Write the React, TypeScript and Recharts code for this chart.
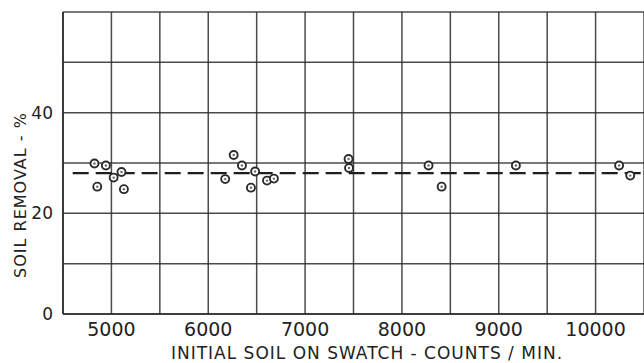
import React from "react";
import {
  ScatterChart,
  Scatter,
  XAxis,
  YAxis,
  CartesianGrid,
  ReferenceLine,
} from "recharts";

// readings taken off the plot
const soilCounts = [
  4825, 4854, 4943, 5023, 5104, 5129, 6175, 6263, 6348, 6441, 6484, 6607, 6678,
  7449, 7454, 8275, 8410, 9177, 10243, 10358,
];
const removalPct = [
  29.9, 25.3, 29.5, 27.1, 28.2, 24.8, 26.8, 31.6, 29.5, 25.1, 28.3, 26.5, 26.9,
  30.8, 29.0, 29.5, 25.3, 29.5, 29.5, 27.5,
];
const meanRemoval = 28;

const xTicks = [
  4500, 5000, 5500, 6000, 6500, 7000, 7500, 8000, 8500, 9000, 9500, 10000,
  10500,
];
const xLabelled = [5000, 6000, 7000, 8000, 9000, 10000];
const yTicks = [0, 10, 20, 30, 40, 50, 60];
const yLabelled = [0, 20, 40];

const points = soilCounts.map((x, i) => ({ x, y: removalPct[i] }));

const INK = "#2b2b2b";
const FONT = "'DejaVu Sans', sans-serif";

const RingDot = (props: any) => {
  const { cx, cy } = props;
  return (
    <g>
      <circle cx={cx} cy={cy} r={4} fill="#fff" stroke={INK} strokeWidth={1.9} />
      <circle cx={cx} cy={cy} r={1.2} fill="#666" />
    </g>
  );
};

export default function App() {
  return (
    <div style={{ position: "absolute", left: 0, top: 0, background: "#fff" }}>
      <ScatterChart
        width={644}
        height={363}
        margin={{ top: 12, right: 0, bottom: 0, left: 0 }}
      >
        <CartesianGrid stroke={INK} strokeWidth={1.5} strokeOpacity={0.85} />
        <XAxis
          type="number"
          dataKey="x"
          domain={[4500, 10500]}
          ticks={xTicks}
          allowDataOverflow
          height={49}
          axisLine={{ stroke: INK, strokeWidth: 1.6 }}
          tickLine={false}
          tickSize={6}
          tickMargin={3}
          tickFormatter={(v: number) => (xLabelled.includes(v) ? String(v) : "")}
          tick={{ fill: "#222", fontSize: 19, fontFamily: FONT }}
          label={(p: any) => (
            <text
              x={367}
              y={359}
              textAnchor="middle"
              fontSize={17}
              fontFamily={FONT}
              letterSpacing={1}
              fill="#222"
            >
              INITIAL SOIL ON SWATCH - COUNTS / MIN.
            </text>
          )}
        />
        <YAxis
          type="number"
          dataKey="y"
          domain={[0, 60]}
          ticks={yTicks}
          width={63}
          axisLine={{ stroke: INK, strokeWidth: 1.6 }}
          tickLine={false}
          tickSize={6}
          tickMargin={4}
          tickFormatter={(v: number) => (yLabelled.includes(v) ? String(v) : "")}
          tick={{ fill: "#222", fontSize: 17, fontFamily: FONT }}
          label={(p: any) => (
            <text
              x={26}
              y={195}
              transform="rotate(-90 26 195)"
              textAnchor="middle"
              fontSize={16}
              fontFamily={FONT}
              letterSpacing={1}
              fill="#222"
            >
              SOIL REMOVAL - %
            </text>
          )}
        />
        <ReferenceLine
          segment={[
            { x: 4600, y: meanRemoval },
            { x: 10500, y: meanRemoval },
          ]}
          stroke="#1e1e1e"
          strokeWidth={2.2}
          strokeDasharray="16 7"
        />
        <Scatter
          data={points}
          shape={<RingDot />}
          isAnimationActive={false}
        />
      </ScatterChart>
    </div>
  );
}
